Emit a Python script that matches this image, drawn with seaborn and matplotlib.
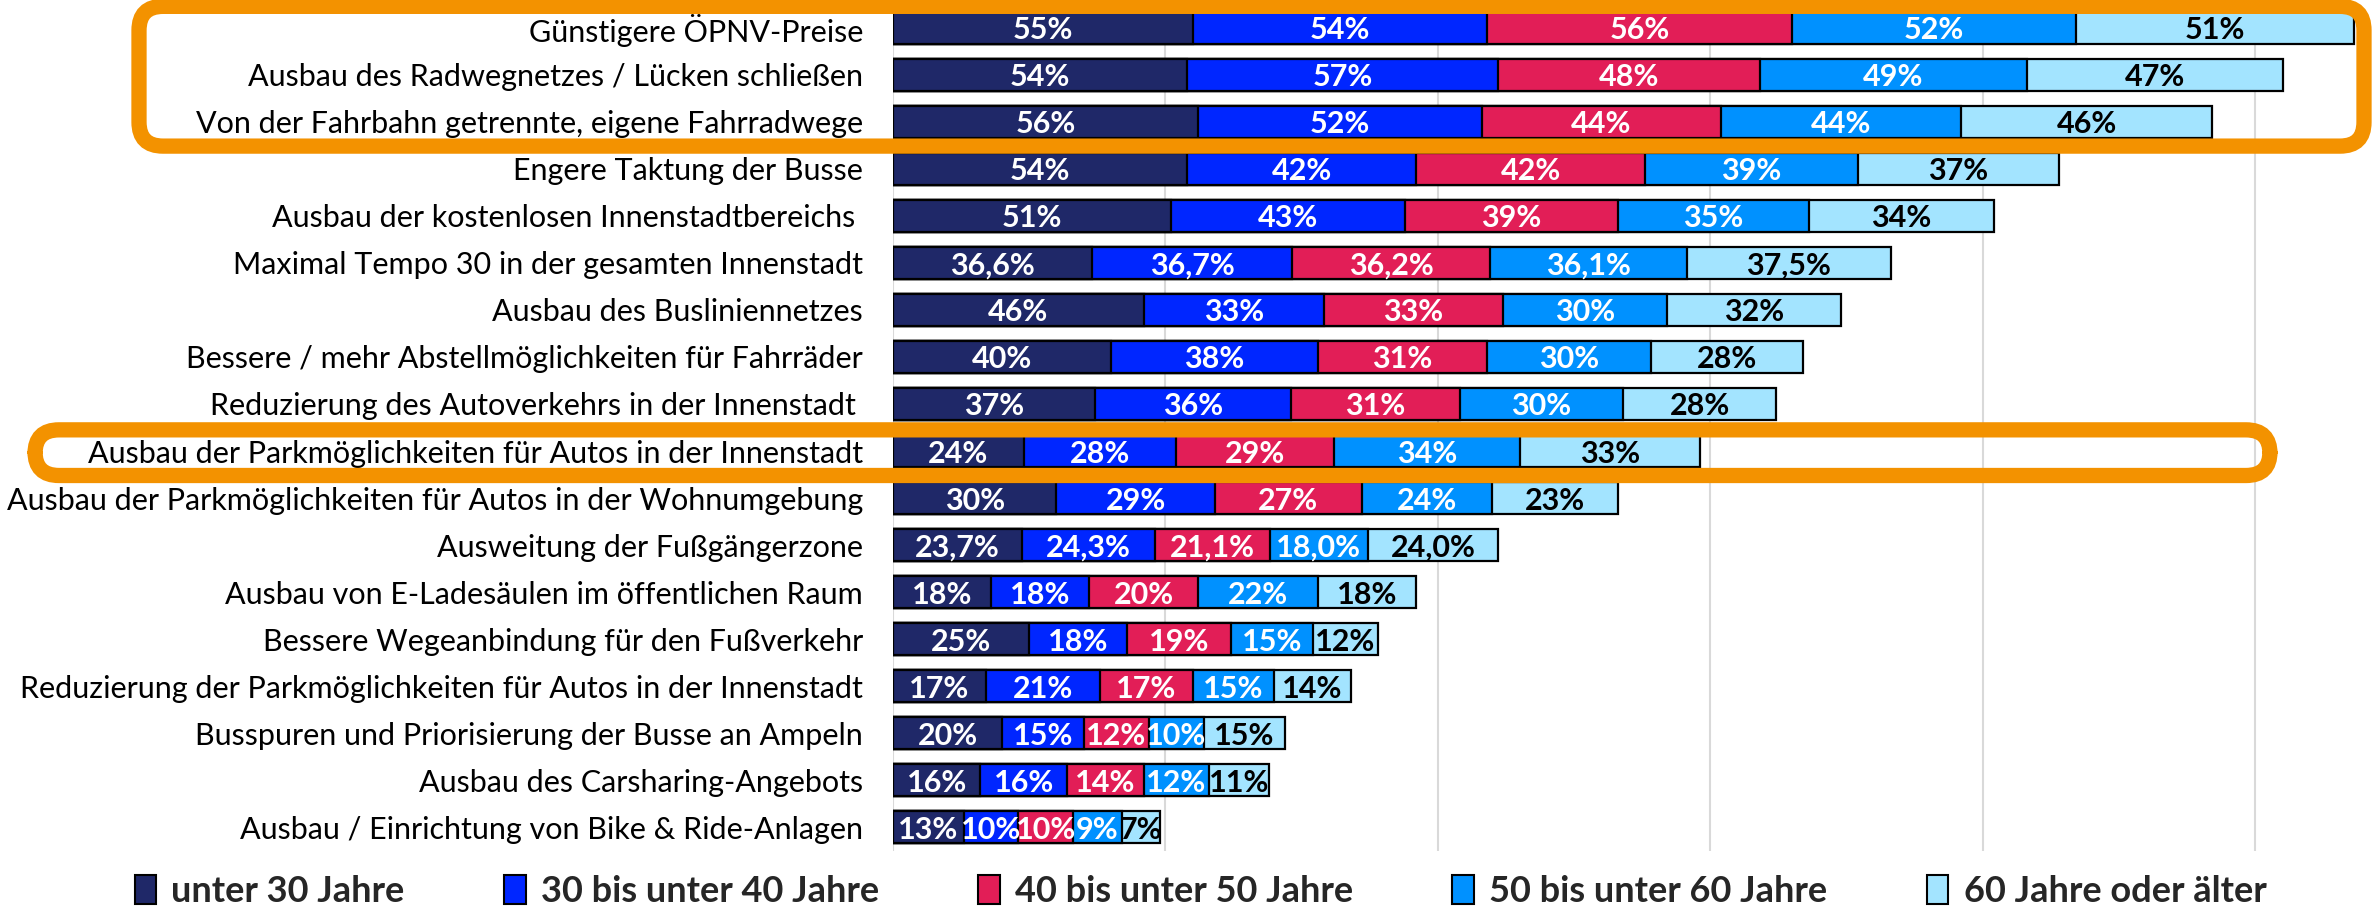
import pandas as pd
import seaborn as sns
import matplotlib.pyplot as plt
from matplotlib.patches import Patch, FancyBboxPatch
from matplotlib.transforms import IdentityTransform

# Daten (Anteile in %, je Altersgruppe)
categories = [
    "Günstigere ÖPNV-Preise",
    "Ausbau des Radwegnetzes / Lücken schließen",
    "Von der Fahrbahn getrennte, eigene Fahrradwege",
    "Engere Taktung der Busse",
    "Ausbau der kostenlosen Innenstadtbereichs ",
    "Maximal Tempo 30 in der gesamten Innenstadt",
    "Ausbau des Busliniennetzes",
    "Bessere / mehr Abstellmöglichkeiten für Fahrräder",
    "Reduzierung des Autoverkehrs in der Innenstadt ",
    "Ausbau der Parkmöglichkeiten für Autos in der Innenstadt",
    "Ausbau der Parkmöglichkeiten für Autos in der Wohnumgebung",
    "Ausweitung der Fußgängerzone",
    "Ausbau von E-Ladesäulen im öffentlichen Raum",
    "Bessere Wegeanbindung für den Fußverkehr",
    "Reduzierung der Parkmöglichkeiten für Autos in der Innenstadt",
    "Busspuren und Priorisierung der Busse an Ampeln",
    "Ausbau des Carsharing-Angebots",
    "Ausbau / Einrichtung von Bike & Ride-Anlagen",
]
age_groups = ["unter 30 Jahre", "30 bis unter 40 Jahre", "40 bis unter 50 Jahre",
              "50 bis unter 60 Jahre", "60 Jahre oder älter"]

unter_30 = [55, 54, 56, 54, 51, 36.6, 46, 40, 37, 24, 30, 23.7, 18, 25, 17, 20, 16, 13]
bis_40 = [54, 57, 52, 42, 43, 36.7, 33, 38, 36, 28, 29, 24.3, 18, 18, 21, 15, 16, 10]
bis_50 = [56, 48, 44, 42, 39, 36.2, 33, 31, 31, 29, 27, 21.1, 20, 19, 17, 12, 14, 10]
bis_60 = [52, 49, 44, 39, 35, 36.1, 30, 30, 30, 34, 24, 18.0, 22, 15, 15, 10, 12, 9]
ab_60 = [51, 47, 46, 37, 34, 37.5, 32, 28, 28, 33, 23, 24.0, 18, 12, 14, 15, 11, 7]

# Zeilen, deren Werte mit einer Nachkommastelle beschriftet sind
decimal_rows = ["Maximal Tempo 30 in der gesamten Innenstadt", "Ausweitung der Fußgängerzone"]

colors = ["#1F2868", "#0026FF", "#E21E57", "#0091FF", "#A3E4FF"]
label_colors = ["white", "white", "white", "white", "black"]

# orange Rahmen: (erste Zeile, letzte Zeile, linker Rand px, rechter Rand px)
highlights = [(0, 2, 139, 2364), (9, 9, 35, 2270)]

W, H, DPI = 2377, 911, 100


def main():
    sns.set_theme(style="white")
    plt.rcParams["font.family"] = ["Lato", "DejaVu Sans"]

    fig = plt.figure(figsize=(W / DPI, H / DPI), dpi=DPI)
    ax = fig.add_axes([893 / W, 60 / H, 1 - 893 / W, 847 / H])

    df = pd.DataFrame(dict(zip(age_groups, [unter_30, bis_40, bis_50, bis_60, ab_60])),
                      index=categories)
    cum = df.cumsum(axis=1)

    # gestapelt: kumulierte Balken von hinten nach vorne zeichnen
    for i in reversed(range(len(age_groups))):
        sns.barplot(x=cum.iloc[:, i].values, y=categories, orient="h",
                    color=colors[i], saturation=1, edgecolor="black",
                    linewidth=1.6, width=0.68, ax=ax)

    for i in range(len(age_groups)):
        for j, cat in enumerate(categories):
            v = df.iloc[j, i]
            mid = cum.iloc[j, i] - v / 2
            if cat in decimal_rows:
                txt = f"{v:.1f}".replace(".", ",") + "%"
            else:
                txt = f"{v:.0f}%"
            ax.text(mid, j, txt, ha="center", va="center_baseline",
                    color=label_colors[i], fontsize=22, fontweight="bold")

    ax.set_xlim(0, 272.3)
    ax.set_ylim(len(categories) - 0.5, -0.5)
    ax.set_xticks(range(0, 251, 50))
    ax.xaxis.grid(True, color="#D9D9D9", linewidth=1.5)
    ax.set_axisbelow(True)
    ax.tick_params(axis="x", labelbottom=False, length=0)
    ax.tick_params(axis="y", length=0, pad=21.5, labelsize=22, labelcolor="black")
    ax.set_xlabel("")
    ax.set_ylabel("")
    for s in ax.spines.values():
        s.set_visible(False)

    # orange Markierungen
    for first, last, x0, x1 in highlights:
        y_top = ax.transData.transform((0, first - 0.45))[1]
        y_bot = ax.transData.transform((0, last + 0.52))[1]
        box = FancyBboxPatch((x0, y_bot), x1 - x0, y_top - y_bot,
                             boxstyle="round,pad=0,rounding_size=24",
                             transform=IdentityTransform(), fill=False,
                             edgecolor="#F39200", linewidth=11, clip_on=False)
        fig.add_artist(box)

    handles = [Patch(facecolor=c, edgecolor="black", linewidth=1.5) for c in colors]
    fig.legend(handles, age_groups, loc="center", bbox_to_anchor=(0.505, 0.021),
               ncol=5, frameon=False, prop=dict(weight="bold", size=26),
               handlelength=0.6, handleheight=0.85, handletextpad=0.42,
               columnspacing=2.75)

    fig.savefig("out.png", dpi=DPI, facecolor="white")


if __name__ == "__main__":
    main()
